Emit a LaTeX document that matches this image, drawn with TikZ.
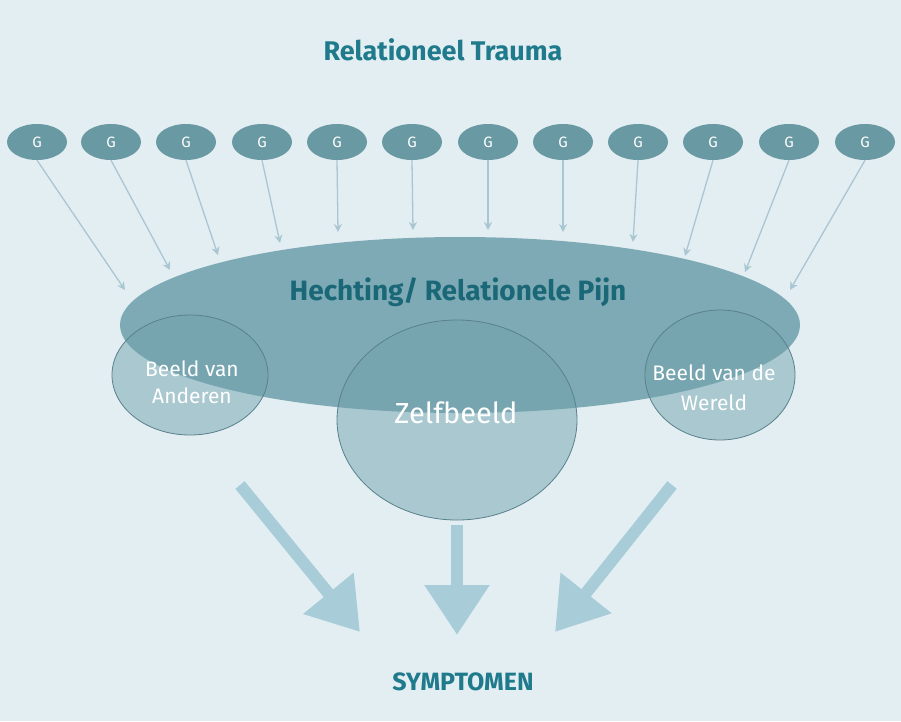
\documentclass[tikz,border=0pt]{standalone}
\usepackage{fontspec}
\setmainfont{Fira Sans}
\usetikzlibrary{arrows.meta,shapes.geometric}
\definecolor{bg}{HTML}{E3EEF3}
\definecolor{teal}{HTML}{6FA1AC}
\definecolor{circ}{HTML}{A9C8D0}
\definecolor{txt}{HTML}{1F7A8C}
\definecolor{arr}{HTML}{A8CDD9}
\definecolor{thin}{HTML}{A9C6D2}
\begin{document}
\begin{tikzpicture}[x=1pt,y=-1pt,
 g/.style={ellipse,fill=teal!95!black,minimum width=60pt,minimum height=36pt,inner sep=0pt,text=white,font=\fontsize{15}{15}\selectfont},
 thinarr/.style={draw=thin,line width=1.3pt,-{Stealth[length=8pt,width=8pt]}},
 big/.style={draw=arr,line width=12pt,-{Triangle[length=50pt,width=62pt]}},
 cline/.style={draw=teal!80!black,line width=0.8pt}]
\fill[bg] (0,0) rectangle (901,721);
\node[text=txt,font=\fontsize{27}{27}\selectfont\bfseries] (title) at (443,50) {Relationeel Trauma};
\foreach \x [count=\i] in {37,111,186,262,337,412,488,563,638,713,789,865}
  \node[g] (g\i) at (\x,142) {G};
\foreach \i/\ex/\ey in {1/125/290,2/170/270,3/218/255,4/280/243,5/338/232,6/413/230,7/488/230,8/563/232,9/633/242,10/685/256,11/745/272,12/790/290}{
  \coordinate (e\i) at (\ex,\ey);
  \draw[thinarr] (g\i.south) -- (e\i);}
% circles
\fill[circ] (190,375) ellipse[x radius=78,y radius=60];
\fill[circ] (457,420) ellipse[x radius=120,y radius=100];
\fill[circ] (720,375) ellipse[x radius=75,y radius=65];
\fill[teal,opacity=0.88] (460,325) ellipse[x radius=340,y radius=88];
\draw[cline] (190,375) ellipse[x radius=78,y radius=60];
\draw[cline] (457,420) ellipse[x radius=120,y radius=100];
\draw[cline] (720,375) ellipse[x radius=75,y radius=65];
\node[text=txt!85!black,font=\fontsize{28}{28}\selectfont\bfseries] (hecht) at (458,292) {Hechting/ Relationele Pijn};
\node[text=white,align=center,font=\fontsize{21}{27}\selectfont] (anderen) at (192,382) {Beeld van\\Anderen};
\node[text=white,font=\fontsize{29}{29}\selectfont] (zelf) at (456,413) {Zelfbeeld};
\node[text=white,align=center,font=\fontsize{21}{30}\selectfont] (wereld) at (714,388) {Beeld van de\\Wereld};
\node[text=txt,font=\fontsize{25}{25}\selectfont\bfseries] (sym) at (463,682) {SYMPTOMEN};
\coordinate (a1) at (240,485); \coordinate (b1) at (360,632);
\coordinate (a2) at (457,525); \coordinate (b2) at (457,635);
\coordinate (a3) at (672,485); \coordinate (b3) at (555,632);
\draw[big] (a1) -- (b1);
\draw[big] (a2) -- (b2);
\draw[big] (a3) -- (b3);
\end{tikzpicture}
\end{document}
